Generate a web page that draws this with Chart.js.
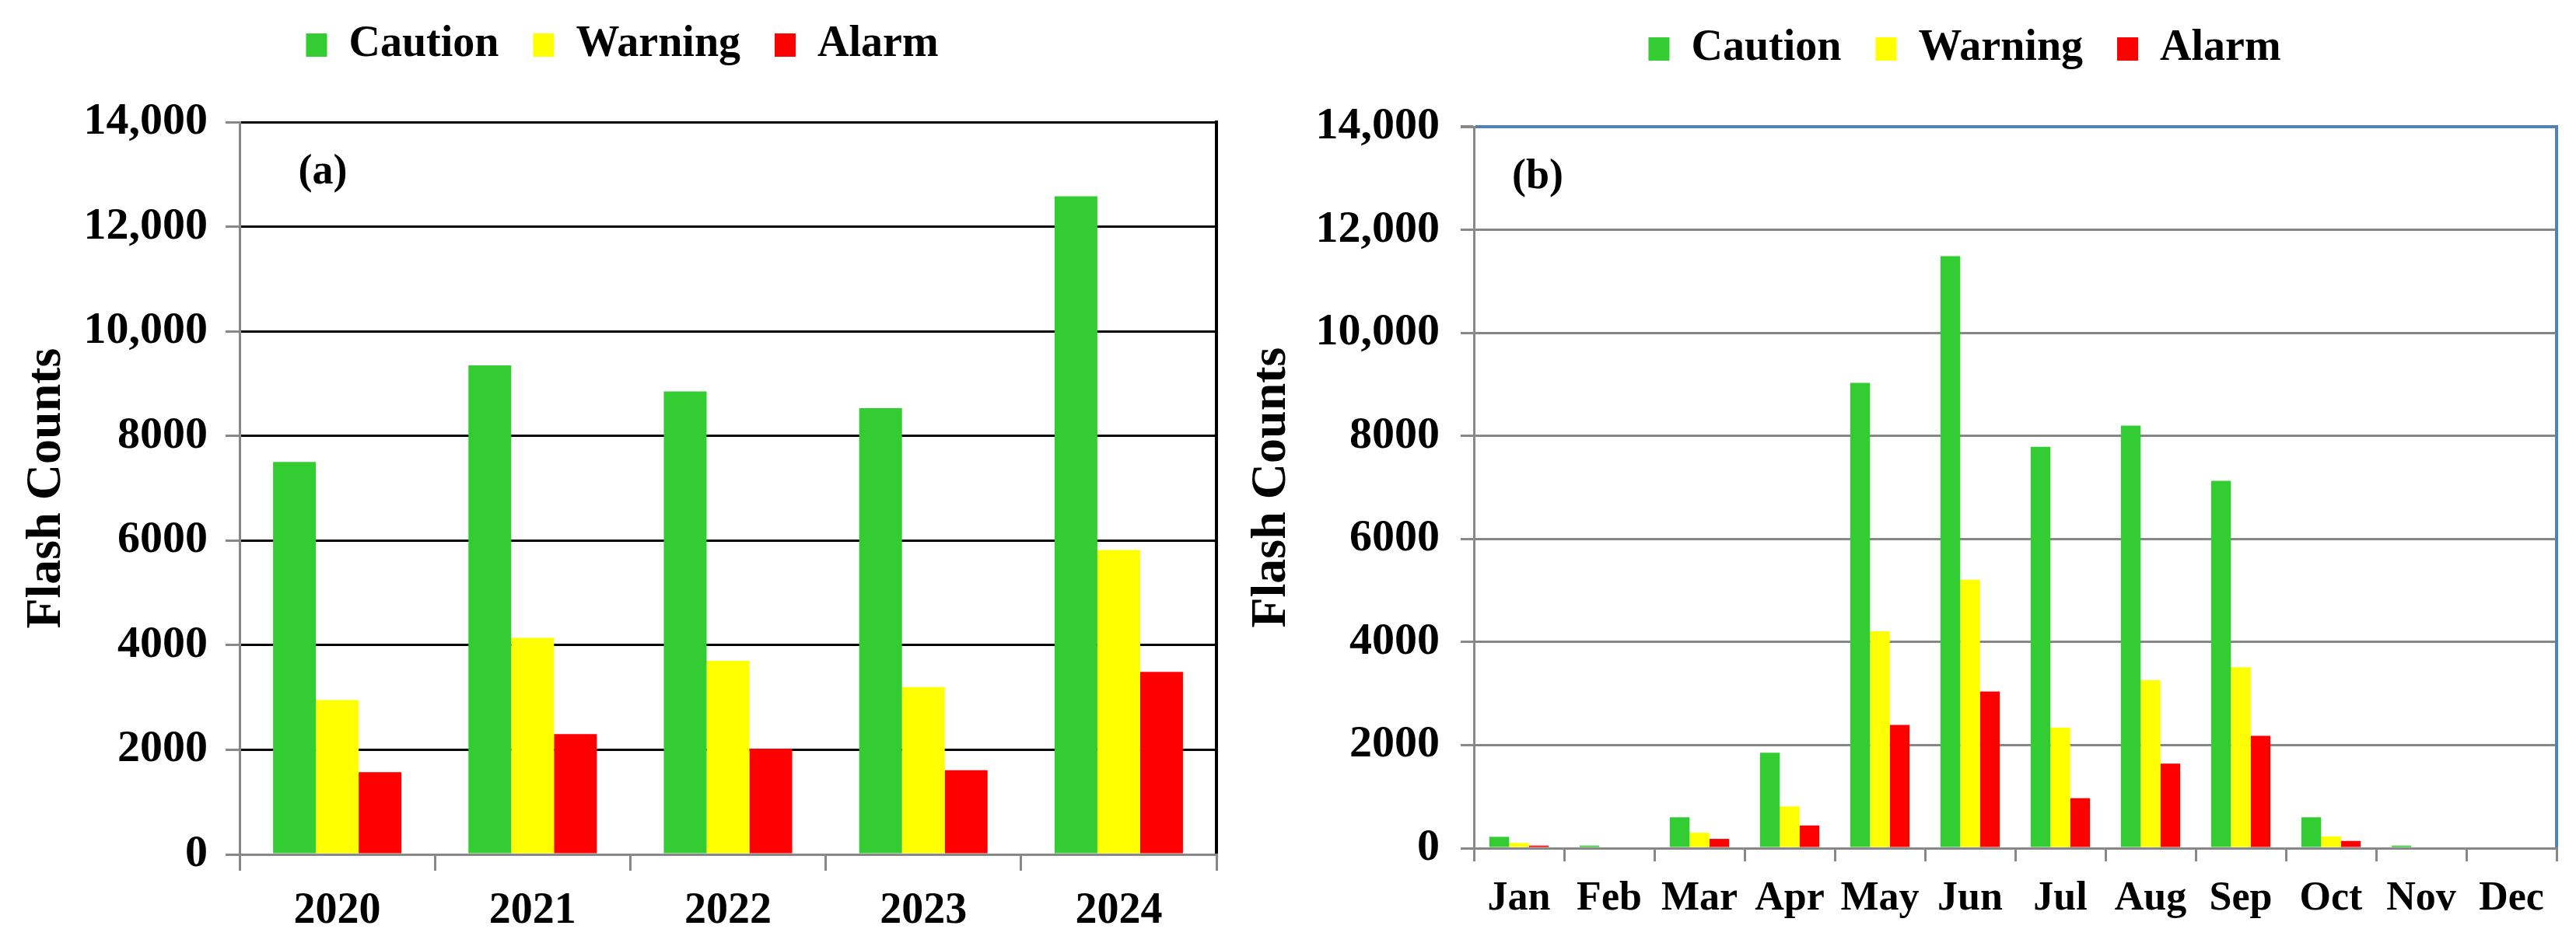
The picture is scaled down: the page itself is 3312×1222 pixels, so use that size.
<!DOCTYPE html>
<html>
<head>
<meta charset="utf-8">
<title>Flash Counts</title>
<script src="https://cdn.jsdelivr.net/npm/chart.js@4.4.1/dist/chart.umd.min.js"></script>
<style>
html,body{margin:0;padding:0;background:#fff;overflow:hidden}
body{width:3312px;height:1222px;position:relative}
canvas{position:absolute;top:0}
#chartA{left:0}
#chartB{left:1600px}
</style>
</head>
<body>
<canvas id="chartA" width="1600" height="1222"></canvas>
<canvas id="chartB" width="1712" height="1222"></canvas>
<script>
// series
const seriesNames = ['Caution','Warning','Alarm'];
const seriesColors = ['#33CC33','#FFFF00','#FF0000'];

// (a) per year
const years = ['2020','2021','2022','2023','2024'];
const yearCaution = [7500, 9350, 8850, 8530, 12580];
const yearWarning = [2950, 4140, 3700, 3200, 5820];
const yearAlarm   = [1570, 2300, 2020, 1610, 3490];

// (b) per month
const months = ['Jan','Feb','Mar','Apr','May','Jun','Jul','Aug','Sep','Oct','Nov','Dec'];
const monthCaution = [220, 50, 600, 1850, 9030, 11490, 7790, 8200, 7130, 600, 50, 0];
const monthWarning = [100, 0, 300, 810, 4210, 5210, 2340, 3260, 3510, 230, 0, 0];
const monthAlarm   = [50, 0, 180, 440, 2390, 3040, 970, 1640, 2180, 140, 0, 0];

// y axis
const yTickLabels = ['0','2000','4000','6000','8000','10,000','12,000','14,000'];
const yMax = 14000, yStep = 2000;

const SERIF = "'Liberation Serif','Times New Roman',serif";

// move the legend row to where the figure has it
const legendSpot = {
  id: 'legendSpot',
  afterLayout(chart, args, opts){
    const lg = chart.legend;
    if(!lg || opts.cx == null) return;
    const w = lg.right - lg.left, h = lg.bottom - lg.top;
    const pad = lg.options.labels.padding;
    lg.left = opts.cx - w/2; lg.right = lg.left + w;
    lg.top = opts.itemTop - pad; lg.bottom = lg.top + h;
  }
};

// panel tag "(a)" / "(b)"
const panelTag = {
  id: 'panelTag',
  afterDraw(chart, args, opts){
    if(!opts.text) return;
    const {ctx, chartArea} = chart;
    ctx.save();
    ctx.font = 'bold 54px ' + SERIF;
    ctx.fillStyle = '#000';
    ctx.textAlign = 'center'; ctx.textBaseline = 'middle';
    ctx.fillText(opts.text, chartArea.left + opts.dx, chartArea.top + opts.dy);
    ctx.restore();
  }
};

function makeChart(id, cfg){
  const datasets = cfg.series.map((vals,i)=>({
    label: seriesNames[i], data: vals, backgroundColor: seriesColors[i],
    borderWidth: 0, categoryPercentage: 0.657, barPercentage: 1
  }));
  return new Chart(document.getElementById(id), {
    type: 'bar',
    data: {labels: cfg.labels, datasets},
    options: {
      responsive: false, animation: false,
      layout: {padding: cfg.padding},
      plugins: {
        legend: {
          display: true, position: 'top',
          labels: {boxWidth: 27, boxHeight: 30, padding: 44, color: '#000',
                   font: {family: SERIF, size: 56, weight: 'bold'}}
        },
        tooltip: {enabled: false},
        legendSpot: cfg.legend,
        panelTag: cfg.tag
      },
      scales: {
        x: {
          grid: {drawOnChartArea: false, drawTicks: true, tickLength: cfg.xTick, tickColor: '#888', lineWidth: 3},
          border: {color: '#888', width: 3, z: 1},
          ticks: {color: '#000', padding: cfg.xPad, autoSkip: false, maxRotation: 0,
                  font: {family: SERIF, size: cfg.xFont, weight: 'bold'}},
          afterFit: a => { a.height = cfg.xHeight; }
        },
        y: {
          min: 0, max: yMax,
          ticks: {stepSize: yStep, color: '#000', padding: cfg.yPad,
                  font: {family: SERIF, size: 58, weight: 'bold'},
                  callback: v => yTickLabels[Math.round(v / yStep)]},
          grid: {color: cfg.gridColor, lineWidth: cfg.gridWidth, tickLength: cfg.yTick, tickColor: '#888'},
          border: {color: '#888', width: 3},
          title: {display: true, text: 'Flash Counts', color: '#000',
                  font: {family: SERIF, size: 64, weight: 'bold'},
                  padding: {top: cfg.titlePad, bottom: 0}},
          afterFit: a => { a.width = cfg.yWidth; }
        },
        yR: {
          position: 'right', display: true,
          ticks: {display: false}, grid: {display: false},
          border: {color: cfg.frameColor, width: cfg.frameWidth},
          afterFit: a => { a.width = 0; }
        }
      }
    },
    plugins: [legendSpot, panelTag]
  });
}

// (a)
makeChart('chartA', {
  labels: years,
  series: [yearCaution, yearWarning, yearAlarm],
  padding: {top: 47, left: 0, right: 36, bottom: 23},
  legend: {cx: 800, itemTop: 30},
  tag: {text: '(a)', dx: 107, dy: 65},
  xTick: 21, xPad: 19, xFont: 56, xHeight: 100,
  yTick: 18, yPad: 23, yWidth: 308, titlePad: 22,
  gridColor: c => (c.tick && c.tick.value === 0) ? '#888' : '#000',
  gridWidth: 3,
  frameColor: '#000', frameWidth: 4
});

// (b)
makeChart('chartB', {
  labels: months,
  series: [monthCaution, monthWarning, monthAlarm],
  padding: {top: 53, left: 0, right: 25, bottom: 31},
  legend: {cx: 926, itemTop: 35},
  tag: {text: '(b)', dx: 82, dy: 65},
  xTick: 17, xPad: 17, xFont: 52, xHeight: 100,
  yTick: 17, yPad: 27, yWidth: 295, titlePad: -3,
  gridColor: c => (c.tick && c.tick.value === yMax) ? '#4F81BD' : '#868686',
  gridWidth: c => (c.tick && c.tick.value === yMax) ? 4 : 3,
  frameColor: '#4F81BD', frameWidth: 4
});
</script>
</body>
</html>
